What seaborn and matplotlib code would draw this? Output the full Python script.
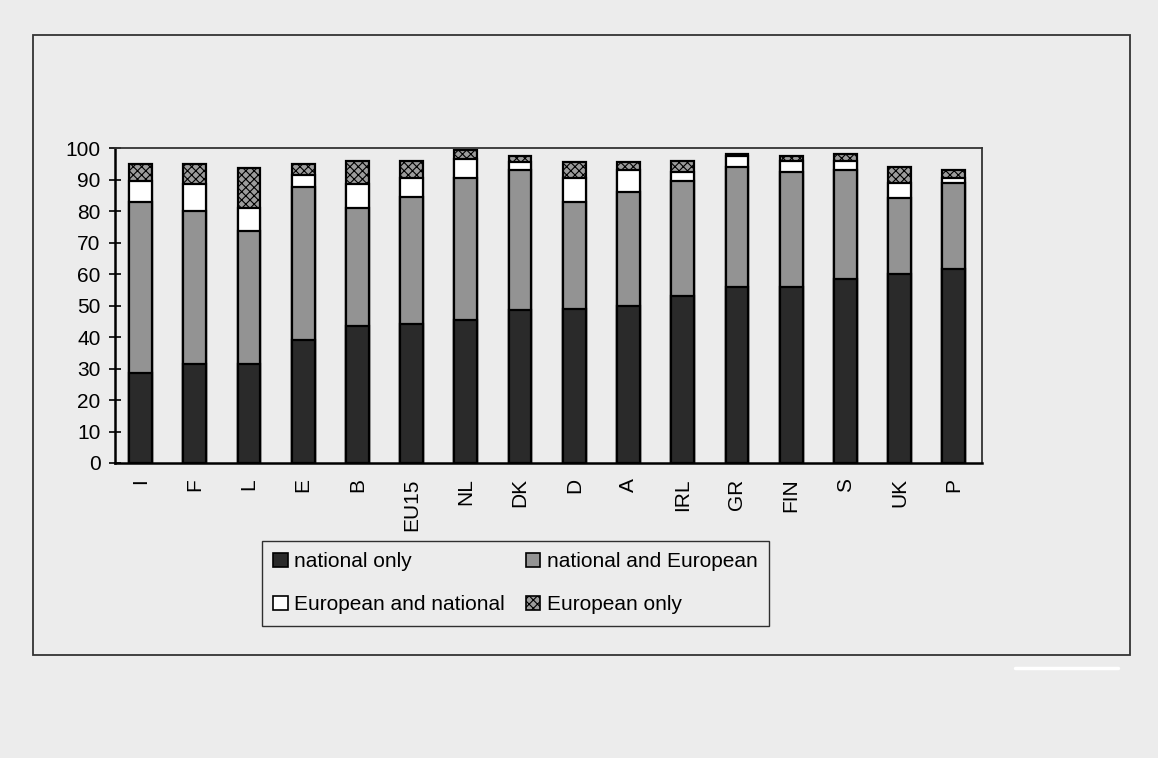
import numpy as np
import pandas as pd
import matplotlib
matplotlib.use("Agg")
import matplotlib.pyplot as plt
from matplotlib.patches import Rectangle, Patch
from matplotlib.lines import Line2D
import seaborn as sns

# country order as in the chart
countries = ["I", "F", "L", "E", "B", "EU15", "NL", "DK", "D", "A",
             "IRL", "GR", "FIN", "S", "UK", "P"]

# shares in %
national_only = [28.5, 31.5, 31.5, 39.0, 43.5, 44.0, 45.5, 48.5, 49.0, 50.0,
                 53.0, 56.0, 56.0, 58.5, 60.0, 61.5]
national_european = [54.5, 48.5, 42.0, 48.5, 37.5, 40.5, 45.0, 44.5, 34.0, 36.0,
                     36.5, 38.0, 36.5, 34.5, 24.0, 27.5]
european_national = [6.5, 8.5, 7.5, 4.0, 7.5, 6.0, 6.0, 2.5, 7.5, 7.0,
                     3.0, 3.5, 3.5, 3.0, 5.0, 1.5]
european_only = [5.5, 6.5, 12.5, 3.5, 7.5, 5.5, 3.0, 2.0, 5.0, 2.5,
                 3.5, 0.5, 1.5, 2.0, 5.0, 2.5]

labels = ["national only", "national and European",
          "European and national", "European only"]
colors = ["#2a2a2a", "#939393", "#ffffff", "#9c9c9c"]
hatches = [None, None, None, "xxxx"]

df = pd.DataFrame({
    "country": countries,
    labels[0]: national_only,
    labels[1]: national_european,
    labels[2]: european_national,
    labels[3]: european_only,
})
cum = df[labels].cumsum(axis=1)
cum["country"] = df["country"]

bg = "#ececec"
sns.set_style("white")
plt.rcParams["font.family"] = ["Liberation Sans", "DejaVu Sans"]
plt.rcParams["hatch.linewidth"] = 0.8
plt.rcParams["text.color"] = "black"

fig = plt.figure(figsize=(11.58, 7.58), dpi=100, facecolor=bg)
W, H = 1158, 758
ax = fig.add_axes([115 / W, 1 - 463 / H, (982 - 115) / W, (463 - 148) / H])
ax.set_facecolor(bg)

# stacked bars: draw the cumulative totals from the top segment down
for i in range(len(labels) - 1, -1, -1):
    before = len(ax.patches)
    sns.barplot(data=cum, x="country", y=labels[i], order=countries,
                color=colors[i], saturation=1, edgecolor="black",
                linewidth=1.6, width=0.42, ax=ax)
    if hatches[i]:
        for p in ax.patches[before:]:
            p.set_hatch(hatches[i])

ax.set_xlim(-0.47, 15.52)
ax.set_ylim(0, 100)
ax.set_yticks(np.arange(0, 101, 10))
ax.set_xlabel("")
ax.set_ylabel("")
ax.tick_params(axis="y", direction="inout", length=9, width=1.2,
               labelsize=15, pad=6, left=True, color="black",
               labelcolor="black")
ax.tick_params(axis="x", length=0, labelsize=15, pad=11, rotation=90,
               labelcolor="black")

for s in ["left", "bottom"]:
    ax.spines[s].set_linewidth(1.8)
    ax.spines[s].set_color("black")
for s in ["top", "right"]:
    ax.spines[s].set_linewidth(1.3)
    ax.spines[s].set_color("#333333")
    ax.spines[s].set_linestyle((0, (1, 1)))

# outer frame of the scanned page
fig.add_artist(Rectangle((33 / W, 1 - 655 / H), (1130 - 33) / W, (655 - 35) / H,
                         transform=fig.transFigure, fill=False,
                         edgecolor="#333333", linewidth=1.3))
fig.add_artist(Line2D([1015 / W, 1118 / W], [1 - 668 / H, 1 - 668 / H],
                      transform=fig.transFigure, color="white", linewidth=2.5))

handles = [Patch(facecolor=colors[i], edgecolor="black", hatch=hatches[i],
                 linewidth=1.2, label=labels[i]) for i in range(4)]
# ncol=2 fills column-wise, so reorder to get two rows as in the original
order = [0, 2, 1, 3]
leg = fig.legend([handles[k] for k in order], [labels[k] for k in order],
                 ncol=2, loc="upper left",
                 bbox_to_anchor=(262 / W, 1 - 541 / H),
                 fontsize=15, frameon=True, fancybox=False,
                 handlelength=0.7, handleheight=0.7, handletextpad=0.3,
                 labelspacing=1.15, columnspacing=1.0, borderpad=0.55,
                 borderaxespad=0)
leg.get_frame().set_edgecolor("black")
leg.get_frame().set_linewidth(1.0)
leg.get_frame().set_facecolor(bg)
for t in leg.get_texts():
    t.set_color("black")

fig.savefig("out.png", dpi=100, facecolor=bg)
